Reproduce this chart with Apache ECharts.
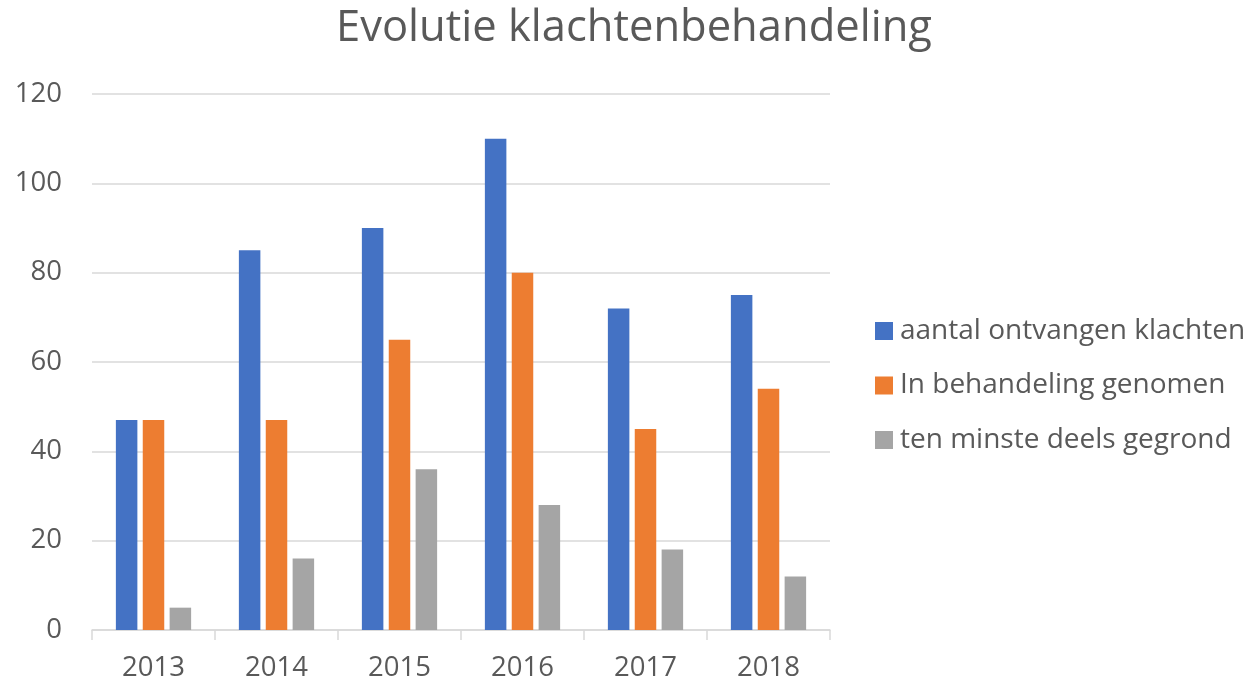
<!DOCTYPE html>
<html>
<head>
<meta charset="utf-8">
<script src="https://cdn.jsdelivr.net/npm/echarts@6/dist/echarts.min.js"></script>
<style>
  html, body { margin: 0; padding: 0; background: #fff; }
  #main { width: 1247px; height: 683px; }
</style>
</head>
<body>
<div id="main"></div>
<script>
var years = ['2013', '2014', '2015', '2016', '2017', '2018'];
var ontvangen = [47, 85, 90, 110, 72, 75];
var behandeling = [47, 47, 65, 80, 45, 54];
var gegrond = [5, 16, 36, 28, 18, 12];

var textColor = '#595959';
var fontName = 'Open Sans';

var chart = echarts.init(document.getElementById('main'));

var option = {
  animation: false,
  title: {
    text: 'Evolutie klachtenbehandeling',
    left: 331,
    top: 2,
    textStyle: {
      color: textColor,
      fontFamily: fontName,
      fontWeight: 'normal',
      fontSize: 43.5
    }
  },
  legend: {
    orient: 'vertical',
    left: 875,
    top: 317,
    padding: 0,
    icon: 'rect',
    itemWidth: 18,
    itemHeight: 18,
    itemGap: 26.5,
    textStyle: {
      color: textColor,
      fontFamily: fontName,
      fontSize: 28,
      lineHeight: 28,
      padding: [0, 0, 0, 2]
    },
    data: ['aantal ontvangen klachten', 'In behandeling genomen', 'ten minste deels gegrond']
  },
  grid: {
    left: 92,
    right: 417,
    top: 94,
    bottom: 53
  },
  xAxis: {
    type: 'category',
    data: years,
    axisLine: { lineStyle: { color: '#d9d9d9', width: 1.5 } },
    axisTick: { show: true, length: 10, lineStyle: { color: '#d9d9d9', width: 1.5 } },
    axisLabel: {
      color: textColor,
      fontFamily: fontName,
      fontSize: 27.5,
      margin: 24
    }
  },
  yAxis: {
    type: 'value',
    min: 0,
    max: 120,
    interval: 20,
    axisLine: { show: false },
    axisTick: { show: false },
    splitLine: { lineStyle: { color: '#d9d9d9', width: 1.5 } },
    axisLabel: {
      color: textColor,
      fontFamily: fontName,
      fontSize: 27.5,
      margin: 30
    }
  },
  series: [
    {
      name: 'aantal ontvangen klachten',
      type: 'bar',
      data: ontvangen,
      barWidth: 21.5,
      barGap: '25%',
      itemStyle: { color: '#4472c4' }
    },
    {
      name: 'In behandeling genomen',
      type: 'bar',
      data: behandeling,
      barWidth: 21.5,
      barGap: '25%',
      itemStyle: { color: '#ed7d31' }
    },
    {
      name: 'ten minste deels gegrond',
      type: 'bar',
      data: gegrond,
      barWidth: 21.5,
      barGap: '25%',
      itemStyle: { color: '#a5a5a5' }
    }
  ]
};

chart.setOption(option);
</script>
</body>
</html>
